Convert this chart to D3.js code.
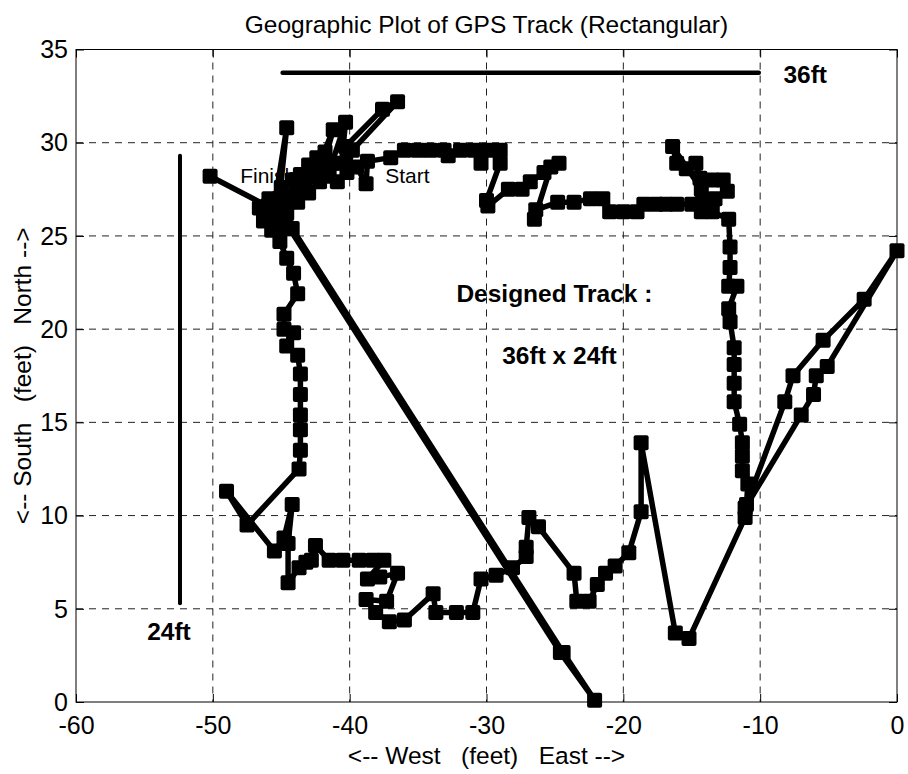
<!DOCTYPE html>
<html>
<head>
<meta charset="utf-8">
<script src="https://cdn.jsdelivr.net/npm/d3@7"></script>
<style>
  body { margin: 0; background: #fff; }
  svg { display: block; font-family: "Liberation Sans", Arial, Helvetica, sans-serif; }
</style>
</head>
<body>
<svg id="chart" width="908" height="774"></svg>
<script>
// GPS track, in feet (east, north), in recorded order
const trackEast = [
  -44.2, -24.4, -22.1, -24.6, -44.4, -45.6, -44.6, -45.2, -44.5, -43.9,
  -43.3, -42.6, -41.2, -42.0, -41.3, -40.3, -40.6, -40.3, -37.6, -36.5,
  -39.8, -40.2, -40.9, -39.5, -38.8, -38.7, -37.0, -36.0, -35.0, -34.1,
  -33.1, -32.8, -31.9, -30.9, -30.4, -29.9, -29.0, -29.0, -30.0, -29.9,
  -28.4, -27.4, -26.8, -25.8, -24.7, -25.3, -26.5, -26.4, -24.8, -23.6,
  -22.4, -21.5, -21.0, -20.0, -19.0, -18.5, -17.6, -16.9, -16.1, -15.0,
  -14.2, -14.3, -16.4, -16.1, -15.4, -14.7, -14.4, -13.5, -12.7, -12.4,
  -13.3, -14.3, -13.5, -12.3, -12.2, -12.2, -12.3, -11.7, -12.3, -12.2,
  -11.9, -11.9, -11.9, -11.9, -11.5, -11.3, -11.3, -11.3, -10.9, -11.0,
  -8.2, -7.6, -5.4, -2.4, 0.0, -5.1, -5.9, -6.1, -7.0, -11.1,
  -11.1, -15.2, -16.2, -18.7, -18.7, -19.6, -20.6, -21.3, -21.9, -22.5,
  -23.4, -23.6, -26.2, -26.9, -27.1, -27.1, -28.1, -29.3, -30.4, -31.0,
  -32.2, -33.7, -33.9, -36.0, -37.1, -38.1, -38.8, -37.3, -36.5, -37.8,
  -38.7, -37.5, -38.3, -39.3, -40.5, -41.5, -42.5, -42.8, -43.2, -43.7,
  -44.5, -44.5, -44.2, -44.8, -45.5, -49.0, -47.5, -43.7, -43.6, -43.6,
  -43.6, -43.6, -43.6, -43.8, -44.6, -44.1, -44.8, -44.8, -43.8, -44.1,
  -44.6, -45.1, -45.7, -46.3, -46.6, -45.9, -45.0, -44.2, -43.6, -43.0,
  -42.4, -41.8, -42.6, -43.4, -44.3, -45.2, -45.8, -45.3, -44.6, -43.8,
  -43.0, -42.2, -41.5, -42.9, -44.9, -46.0, -50.2
];
const trackNorth = [
  25.4, 2.65, 0.1, 2.65, 25.4, 26.2, 30.8, 26.6, 27.0, 27.4,
  27.8, 28.2, 30.7, 28.6, 28.9, 31.1, 28.9, 29.8, 31.8, 32.2,
  29.6, 28.4, 27.9, 28.7, 27.8, 29.0, 29.2, 29.6, 29.6, 29.6,
  29.6, 29.3, 29.6, 29.6, 28.9, 29.6, 29.6, 28.9, 26.9, 26.6,
  27.5, 27.5, 27.9, 28.4, 28.9, 28.7, 25.9, 26.4, 26.8, 26.8,
  27.0, 27.0, 26.3, 26.3, 26.3, 26.7, 26.7, 26.7, 26.7, 26.7,
  26.9, 27.5, 29.8, 28.9, 28.6, 28.9, 28.1, 28.0, 28.0, 27.4,
  27.0, 26.3, 26.3, 25.9, 24.4, 23.3, 22.3, 22.3, 21.1, 20.4,
  19.0, 18.1, 17.1, 16.1, 14.9, 13.9, 13.2, 12.4, 11.7, 10.6,
  16.1, 17.5, 19.4, 21.6, 24.2, 18.0, 17.5, 16.5, 15.4, 10.4,
  9.9, 3.4, 3.7, 13.9, 10.2, 8.0, 7.3, 6.9, 6.3, 5.4,
  5.4, 6.9, 9.4, 9.9, 8.3, 7.8, 7.2, 6.8, 6.6, 4.8,
  4.8, 4.8, 5.8, 4.4, 4.3, 4.8, 5.5, 5.4, 6.9, 6.7,
  6.6, 7.6, 7.6, 7.6, 7.6, 7.6, 8.4, 7.6, 7.5, 7.2,
  6.4, 8.5, 10.6, 8.8, 8.1, 11.3, 9.5, 12.5, 13.5, 14.6,
  15.4, 16.5, 17.6, 18.6, 19.1, 19.8, 20.0, 20.8, 21.9, 23.0,
  23.8, 24.7, 25.3, 25.8, 26.5, 27.0, 27.6, 28.0, 28.3, 28.8,
  29.2, 29.5, 28.6, 27.8, 27.2, 26.6, 26.0, 25.4, 26.2, 26.8,
  27.3, 27.9, 28.2, 28.4, 26.9, 26.6, 28.2
];

// reference bars for the designed track size
const bar36East = [-44.9, -10.1];
const bar36North = [33.75, 33.75];
const bar24East = [-52.4, -52.4];
const bar24North = [5.3, 29.3];

// annotations (text, east, north)
const labelText = ["Start", "Finish", "Designed Track :", "36ft x 24ft", "36ft", "24ft"];
const labelEast = [-37.4, -48.0, -32.2, -28.85, -8.3, -54.8];
const labelNorth = [28.24, 28.24, 21.91, 18.63, 33.7, 3.79];

const xTicks = [-60, -50, -40, -30, -20, -10, 0];
const yTicks = [0, 5, 10, 15, 20, 25, 30, 35];

const titleText = "Geographic Plot of GPS Track (Rectangular)";
const xLabelText = "<-- West   (feet)   East -->";
const yLabelText = "<-- South   (feet)   North -->";

// plot box
const box = { left: 76, right: 897, top: 49.5, bottom: 702 };

const x = d3.scaleLinear().domain([-60, 0]).range([box.left, box.right]);
const y = d3.scaleLinear().domain([0, 35]).range([box.bottom, box.top]);

const svg = d3.select('#chart');

// dashed grid
svg.append('g').selectAll('line')
  .data(xTicks.slice(1, -1))
  .enter().append('line')
  .attr('x1', d => x(d)).attr('x2', d => x(d))
  .attr('y1', box.top).attr('y2', box.bottom)
  .attr('stroke', '#222').attr('stroke-width', 1)
  .attr('stroke-dasharray', '7,6');

svg.append('g').selectAll('line')
  .data(yTicks.slice(1, -1))
  .enter().append('line')
  .attr('x1', box.left).attr('x2', box.right)
  .attr('y1', d => y(d)).attr('y2', d => y(d))
  .attr('stroke', '#222').attr('stroke-width', 1)
  .attr('stroke-dasharray', '7,6');

// axes, ticks pointing inwards like MATLAB
const fmt = d => String(d);

const xAxis = svg.append('g')
  .attr('transform', `translate(0,${box.bottom})`)
  .call(d3.axisBottom(x).tickValues(xTicks).tickSize(-8).tickPadding(14).tickFormat(fmt));

const yAxis = svg.append('g')
  .attr('transform', `translate(${box.left},0)`)
  .call(d3.axisLeft(y).tickValues(yTicks).tickSize(-8).tickPadding(8).tickFormat(fmt));

svg.append('g')
  .attr('transform', `translate(0,${box.top})`)
  .call(d3.axisTop(x).tickValues(xTicks).tickSize(-8).tickFormat(''));

svg.append('g')
  .attr('transform', `translate(${box.right},0)`)
  .call(d3.axisRight(y).tickValues(yTicks).tickSize(-8).tickFormat(''));

svg.selectAll('.domain').remove();

[xAxis, yAxis].forEach(g => {
  g.attr('font-family', null).attr('font-size', 25);
});
yAxis.selectAll('text').attr('dy', '0.33em');

// box
svg.append('rect')
  .attr('x', box.left).attr('y', box.top)
  .attr('width', box.right - box.left).attr('height', box.bottom - box.top)
  .attr('fill', 'none').attr('stroke', '#000').attr('stroke-width', 1);

// size bars
const bar = d3.line().x(d => x(d[0])).y(d => y(d[1]));
svg.append('path')
  .attr('d', bar(d3.zip(bar36East, bar36North)))
  .attr('stroke', '#000').attr('stroke-width', 4.5)
  .attr('stroke-linecap', 'round').attr('fill', 'none');
svg.append('path')
  .attr('d', bar(d3.zip(bar24East, bar24North)))
  .attr('stroke', '#000').attr('stroke-width', 4)
  .attr('stroke-linecap', 'round').attr('fill', 'none');

// annotations (drawn before the track so markers sit on top)
svg.append('g').selectAll('text')
  .data(labelText)
  .enter().append('text')
  .attr('x', (d, i) => x(labelEast[i]))
  .attr('y', (d, i) => y(labelNorth[i]))
  .attr('dy', '0.36em')
  .attr('font-size', (d, i) => i < 2 ? 21 : 24.5)
  .attr('font-weight', (d, i) => i < 2 ? 'normal' : 'bold')
  .text(d => d);

// track
const track = d3.zip(trackEast, trackNorth);
svg.append('path')
  .attr('d', d3.line().x(d => x(d[0])).y(d => y(d[1]))(track))
  .attr('fill', 'none')
  .attr('stroke', '#000')
  .attr('stroke-width', 5.5)
  .attr('stroke-linejoin', 'round');

const ms = 15;
svg.append('g').selectAll('rect')
  .data(track)
  .enter().append('rect')
  .attr('x', d => x(d[0]) - ms / 2)
  .attr('y', d => y(d[1]) - ms / 2)
  .attr('width', ms).attr('height', ms)
  .attr('rx', 2)
  .attr('fill', '#000');

// titles
svg.append('text')
  .attr('x', (box.left + box.right) / 2).attr('y', 32.7)
  .attr('text-anchor', 'middle')
  .attr('font-size', 24.5)
  .text(titleText);

svg.append('text')
  .attr('x', (box.left + box.right) / 2).attr('y', 764)
  .attr('text-anchor', 'middle')
  .attr('font-size', 24.5)
  .style('white-space', 'pre')
  .text(xLabelText);

svg.append('text')
  .attr('transform', `translate(31,${(box.top + box.bottom) / 2}) rotate(-90)`)
  .attr('text-anchor', 'middle')
  .attr('font-size', 24.5)
  .style('white-space', 'pre')
  .text(yLabelText);
</script>
</body>
</html>
